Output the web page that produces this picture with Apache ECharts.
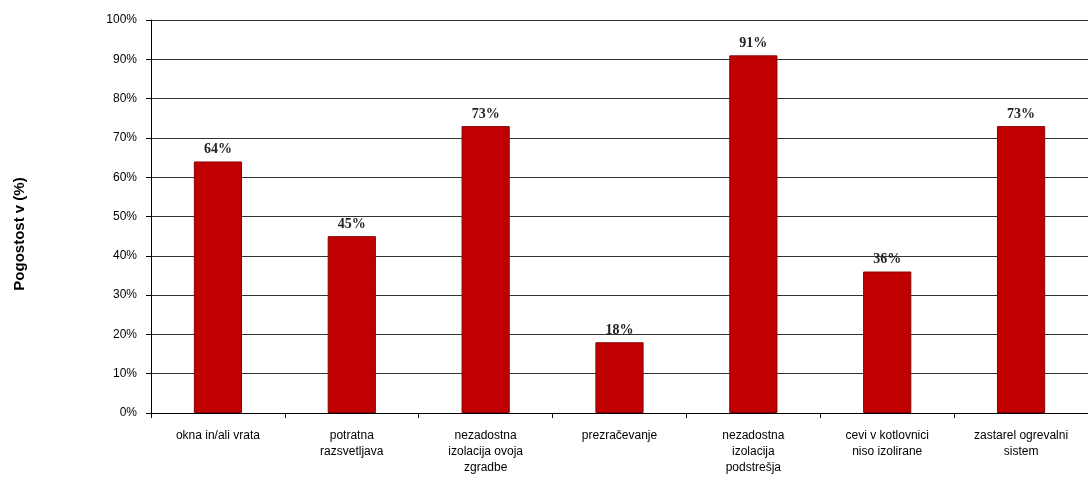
<!DOCTYPE html>
<html>
<head>
<meta charset="utf-8">
<script src="https://cdn.jsdelivr.net/npm/echarts@6/dist/echarts.min.js"></script>
<style>
  html, body { margin: 0; padding: 0; background: #fff; }
  #chart { width: 1088px; height: 480px; }
</style>
</head>
<body>
<div id="chart"></div>
<script>
// Vzroki za izgube energije – pogostost v stavbah
const categories = [
  'okna in/ali vrata',
  'potratna\nrazsvetljava',
  'nezadostna\nizolacija ovoja\nzgradbe',
  'prezračevanje',
  'nezadostna\nizolacija\npodstrešja',
  'cevi v kotlovnici\nniso izolirane',
  'zastarel ogrevalni\nsistem'
];
const frequency = [64, 45, 73, 18, 91, 36, 73];
const yTicks = { min: 0, max: 100, interval: 10 };
const yTitle = 'Pogostost v (%)';

const chart = echarts.init(document.getElementById('chart'), null, { renderer: 'canvas' });

chart.setOption({
  backgroundColor: '#ffffff',
  animation: false,
  grid: { left: 151, right: -1, top: 20, bottom: 67, containLabel: false },
  graphic: [{
    type: 'text',
    x: 20,
    y: 234,
    rotation: Math.PI / 2,
    style: {
      text: yTitle,
      fill: '#000',
      font: 'bold 15px "Liberation Sans", Arial, sans-serif',
      align: 'center',
      verticalAlign: 'middle'
    }
  }],
  xAxis: {
    type: 'category',
    data: categories,
    boundaryGap: true,
    axisLine: { lineStyle: { color: '#000', width: 1 } },
    axisTick: { show: true, interval: 0, length: 5, lineStyle: { color: '#000' } },
    axisLabel: {
      interval: 0,
      margin: 15,
      color: '#000',
      fontFamily: 'Liberation Sans, Arial, sans-serif',
      fontSize: 12,
      lineHeight: 16
    }
  },
  yAxis: {
    type: 'value',
    min: yTicks.min,
    max: yTicks.max,
    interval: yTicks.interval,
    axisLine: { show: true, lineStyle: { color: '#000', width: 1 } },
    axisTick: { show: true, length: 5, lineStyle: { color: '#000' } },
    axisLabel: {
      formatter: '{value}%',
      margin: 14,
      color: '#000',
      fontFamily: 'Liberation Sans, Arial, sans-serif',
      fontSize: 12
    },
    splitLine: { show: true, lineStyle: { color: '#333', width: 1.2 } }
  },
  series: [{
    type: 'bar',
    data: frequency,
    barWidth: '36%',
    itemStyle: { color: '#c00000', borderColor: '#8a0000', borderWidth: 1 },
    label: {
      show: true,
      position: 'top',
      distance: 5,
      formatter: p => p.value + '%',
      color: '#222',
      fontFamily: 'Liberation Serif, Times New Roman, serif',
      fontWeight: 'bold',
      fontSize: 14
    }
  }]
});
</script>
</body>
</html>
